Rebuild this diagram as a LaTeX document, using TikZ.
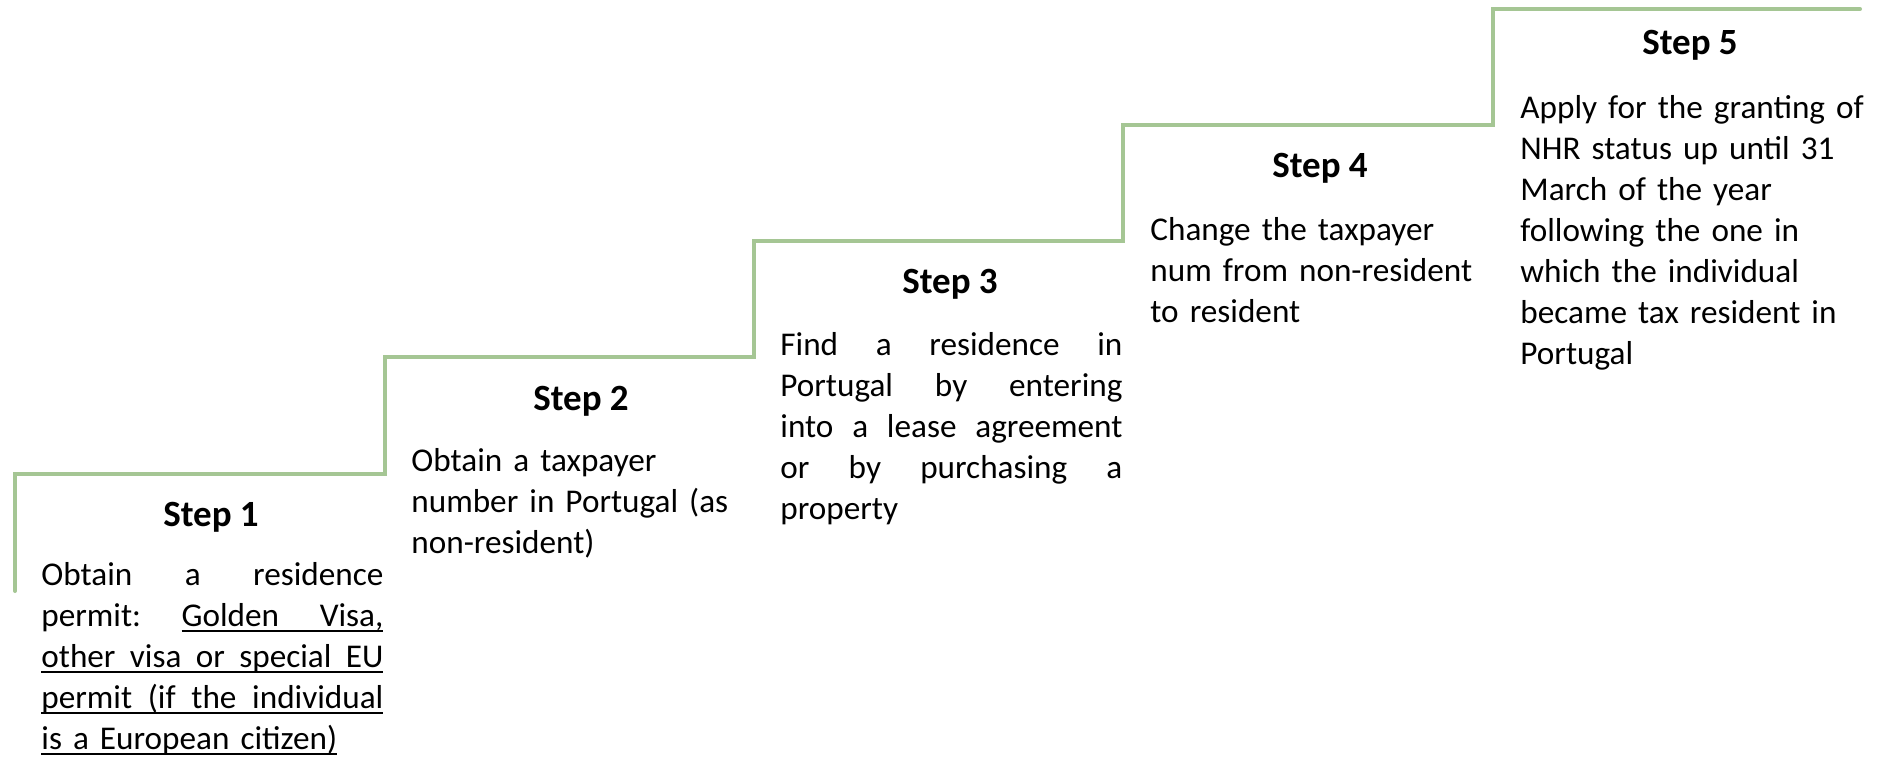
\documentclass[tikz,border=0pt]{standalone}
\usepackage{fontspec}
\setmainfont{Carlito}
\definecolor{stairgreen}{RGB}{165,198,148}
\newlength\ulth \setlength\ulth{1.3pt}
\newlength\uloff \setlength\uloff{1.8pt}
\newcommand\ulrule[1]{\rule[-\dimexpr\uloff+\ulth\relax]{#1}{\ulth}}
\newcommand\ulword[1]{\leavevmode\setbox0\hbox{#1}\rlap{\ulrule{\wd0}}\box0}
\newcommand\ulgap{\leaders\hrule height -\uloff depth \dimexpr\uloff+\ulth\relax\hfill}
\newcommand\ulline[1]{\leavevmode\rlap{\ulrule{\linewidth}}#1}
\tikzset{
  stairline/.style={draw=stairgreen, line width=2pt, line cap=round, line join=miter},
  stephead/.style={anchor=base, inner sep=0pt, font=\fontsize{18.5pt}{22pt}\selectfont\bfseries},
  stepbody/.style={anchor=base west, inner sep=0pt, text width=171pt, align=left,
    font=\fontsize{16.6pt}{20.5pt}\selectfont\frenchspacing},
  raggedbody/.style={stepbody, text width=190pt},
}
\begin{document}
\begin{tikzpicture}
\begin{scope}[x=0.5pt,y=-0.5pt]
\useasboundingbox (0,0) rectangle (1888,756);
% staircase corners
\coordinate (c0) at (15,591);
\coordinate (c1) at (15,474);
\coordinate (c2) at (385,474);
\coordinate (c3) at (385,357);
\coordinate (c4) at (754,357);
\coordinate (c5) at (754,241);
\coordinate (c6) at (1123,241);
\coordinate (c7) at (1123,125);
\coordinate (c8) at (1493,125);
\coordinate (c9) at (1493,9);
\coordinate (c10) at (1860,9);
\draw[stairline] (c0) -- (c1) -- (c2) -- (c3) -- (c4) -- (c5) -- (c6) -- (c7) -- (c8) -- (c9) -- (c10);

% Step 1
\node[stephead] (h1) at (211,526) {Step 1};
\node[stepbody] (b1) at (41,585) {Obtain\hfill a\hfill residence\\
permit:\hfill\ulword{Golden}\ulgap\ulword{Visa,}\\
\ulline{other\hfill visa\hfill or\hfill special\hfill EU}\\
\ulline{permit\hfill (if\hfill the\hfill individual}\\
\ulword{is a European citizen)}};

% Step 2
\node[stephead] (h2) at (581,410) {Step 2};
\node[raggedbody] (b2) at (411,471) {Obtain a taxpayer\\number in Portugal (as\\non-resident)};

% Step 3
\node[stephead] (h3) at (950,293) {Step 3};
\node[stepbody] (b3) at (780,355) {Find\hfill a\hfill residence\hfill in\\
Portugal\hfill by\hfill entering\\
into\hfill a\hfill lease\hfill agreement\\
or\hfill by\hfill purchasing\hfill a\\
property};

% Step 4
\node[stephead] (h4) at (1320,177) {Step 4};
\node[raggedbody] (b4) at (1150,240) {Change the taxpayer\\num from non-resident\\to resident};

% Step 5
\node[stephead] (h5) at (1690,54) {Step 5};
\node[raggedbody] (b5) at (1520,118) {Apply for the granting of\\NHR status up until 31\\March of the year\\following the one in\\which the individual\\became tax resident in\\Portugal};
\end{scope}
\end{tikzpicture}
\end{document}
